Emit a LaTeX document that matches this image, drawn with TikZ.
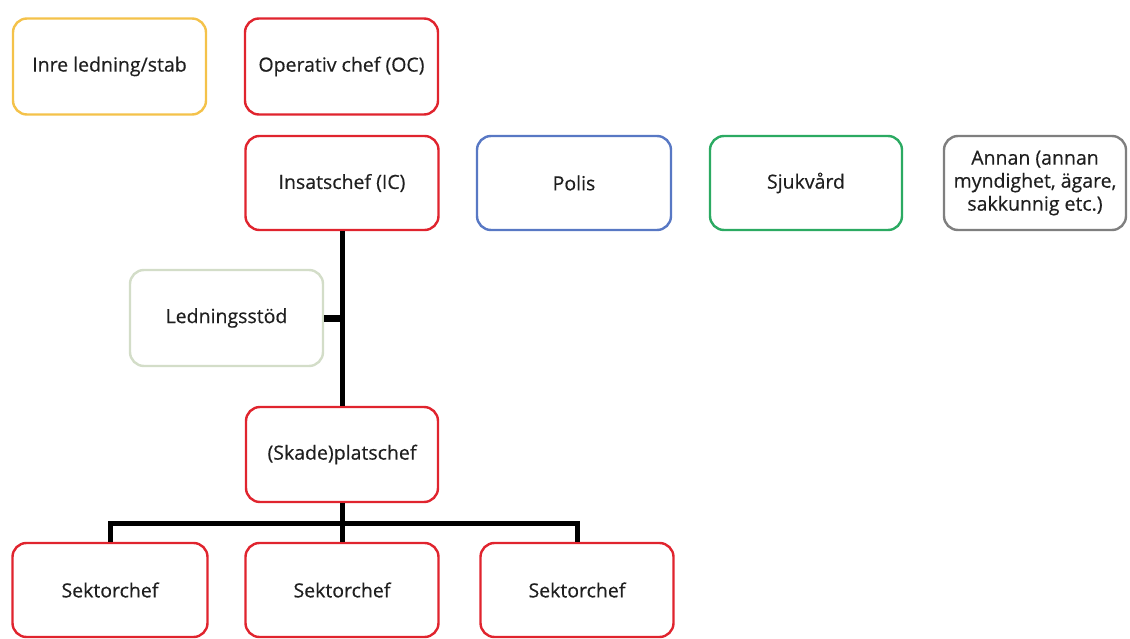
\documentclass[tikz,border=0pt]{standalone}
\usepackage{fontspec}
\setmainfont{Open Sans}
\newfontfamily\boxfont{Open Sans}[FakeBold=0.4]
\begin{document}
\begin{tikzpicture}[x=1pt,y=-1pt,
  box/.style={draw=#1, line width=2.4pt, rounded corners=14pt, fill=white,
    minimum width=193pt, minimum height=96pt, align=center,
    font=\boxfont\fontsize{19.5}{23}\selectfont, text=black!88, inner sep=2pt},
  conn/.style={line width=5pt, draw=black, line cap=butt, line join=miter}]
\definecolor{cred}{HTML}{E0242E}
\definecolor{cyellow}{HTML}{F4C24A}
\definecolor{cblue}{HTML}{5878C4}
\definecolor{cgreen}{HTML}{2BAA62}
\definecolor{cgray}{HTML}{7F7F7F}
\definecolor{clgreen}{HTML}{D3DDC8}
\useasboundingbox (0,0) rectangle (1130,639);
\node[box=cyellow] (inre) at (109.5,66.5) {Inre ledning/stab};
\node[box=cred] (oc) at (341.5,66.5) {Operativ chef (OC)};
\node[box=cred, minimum height=94pt] (ic) at (342,183) {Insatschef (IC)};
\node[box=cblue, minimum height=94pt, minimum width=194pt] (polis) at (574,183) {Polis};
\node[box=cgreen, minimum height=94pt, minimum width=192pt] (sjuk) at (806,183) {Sjukvård};
\node[box=cgray, minimum height=94pt, minimum width=182pt] (annan) at (1035,183) {Annan (annan\\myndighet, ägare,\\sakkunnig etc.)};
\node[box=clgreen] (leds) at (226.5,318) {Ledningsstöd};
\node[box=cred, minimum height=95pt, minimum width=192pt] (plats) at (342,454.5) {(Skade)platschef};
\node[box=cred, minimum height=94pt, minimum width=195pt] (s1) at (110,590) {Sektorchef};
\node[box=cred, minimum height=94pt] (s2) at (342,590) {Sektorchef};
\node[box=cred, minimum height=94pt] (s3) at (577,590) {Sektorchef};
\coordinate (bus) at (342,523);
\draw[conn] (ic.south) -- (plats.north);
\draw[line width=7pt, line cap=butt] (leds.east) -- (leds.east -| ic.south);
\draw[conn] (plats.south) -- (bus);
\draw[conn] (s1.north) |- (bus -| s3.north) -- (s3.north);
\draw[conn] (bus) -- (s2.north);
\end{tikzpicture}
\end{document}
